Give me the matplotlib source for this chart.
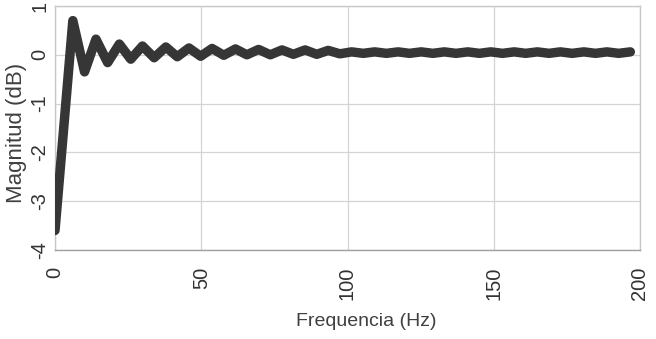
import matplotlib
matplotlib.use("Agg")
import matplotlib.pyplot as plt

freq = [0.0, 6.1, 10.1, 14.0, 18.0, 22.0, 25.9, 29.9, 33.9, 37.9, 41.8,
        45.8, 49.8, 53.7, 57.7, 61.7, 65.6, 69.6, 73.6, 77.6, 81.5,
        85.5, 89.5, 93.4, 97.4, 101.4, 105.4, 109.3, 113.3, 117.3, 121.2,
        125.2, 129.2, 133.1, 137.1, 141.1, 145.1, 149.0, 153.0, 157.0, 160.9,
        164.9, 168.9, 172.8, 176.8, 180.8, 184.8, 188.7, 192.7, 196.7]
mag = [-3.6, 0.70, -0.35, 0.32, -0.16, 0.22, -0.09, 0.18, -0.06, 0.16, -0.04,
       0.14, -0.03, 0.13, -0.01, 0.12, 0.0, 0.11, 0.0, 0.10, 0.01,
       0.10, 0.01, 0.09, 0.02, 0.06, 0.03, 0.06, 0.03, 0.06, 0.03,
       0.06, 0.03, 0.06, 0.03, 0.06, 0.03, 0.06, 0.03, 0.06, 0.03,
       0.06, 0.03, 0.06, 0.03, 0.06, 0.03, 0.06, 0.03, 0.06]

xticks = [0, 50, 100, 150, 200]
yticks = [-4, -3, -2, -1, 0, 1]

plt.rcParams['font.family'] = ['Liberation Sans', 'DejaVu Sans']

fig = plt.figure(figsize=(6.56, 3.39), dpi=100)
ax = fig.add_axes([55/656, 1 - 250/339, 585/656, 244/339])

ax.plot(freq, mag, color='#363636', lw=6.8, solid_joinstyle='round',
        solid_capstyle='round', zorder=3)

ax.set_xlim(0, 200)
ax.set_ylim(-4, 1)
ax.set_xticks(xticks)
ax.set_yticks(yticks)
ax.set_xticklabels([str(t) for t in xticks], rotation=90, fontsize=14.5, color='#333333')
ax.set_yticklabels([str(t) for t in yticks], rotation=90,
                   fontsize=14.5, color='#333333', va='center')
ax.tick_params(axis='x', length=0, pad=12)
ax.tick_params(axis='y', length=0, pad=4)
ax.grid(True, color='#d4d4d4', lw=0.9)
ax.set_axisbelow(True)
for s in ['top', 'right', 'left']:
    ax.spines[s].set_color('#c8c8c8')
    ax.spines[s].set_linewidth(1.0)
ax.spines['bottom'].set_color('#a0a0a0')
ax.spines['bottom'].set_linewidth(1.0)

fig.text(366/656, 1 - 321/339, 'Frequencia (Hz)', ha='center', va='center',
         fontsize=14, color='#404040')
fig.text(17/656, 1 - 133/339, 'Magnitud (dB)', ha='center', va='center',
         rotation=90, fontsize=16, color='#404040')

fig.savefig('out.png', dpi=100)
